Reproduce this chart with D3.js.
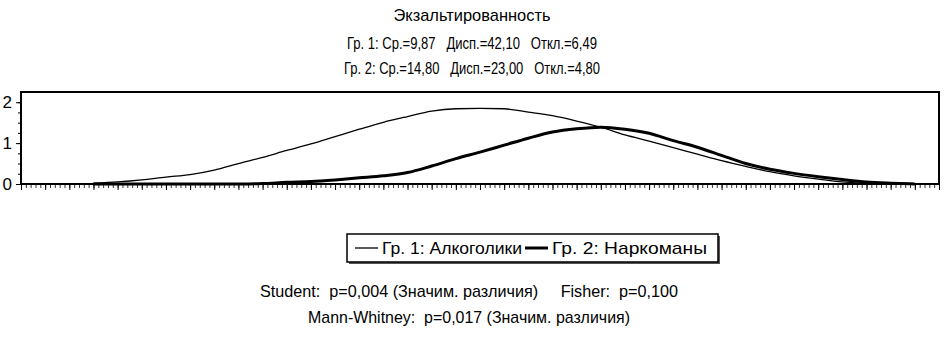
<!DOCTYPE html>
<html>
<head>
<meta charset="utf-8">
<script src="https://cdn.jsdelivr.net/npm/d3@7"></script>
<style>
	body { margin: 0; background: #fff; }
	svg { display: block; font-family: "Liberation Sans", Arial, sans-serif; }
	text { white-space: pre; }
</style>
</head>
<body>
<div id="chart"></div>
<script>

const xs = [-6,-5,-4,-3,-2,-1,0,1,2,3,4,5,6,7,8,9,10,11,12,13,14,15,16,17,18,19,20,21,22,23,24,25,26,27,28];

// Гр. 1: Алкоголики
const group1 = [0.02,0.05,0.10,0.17,0.23,0.34,0.50,0.65,0.82,0.98,1.16,1.34,1.51,1.65,1.78,1.84,1.85,1.84,1.76,1.67,1.54,1.39,1.20,1.05,0.89,0.73,0.57,0.43,0.30,0.20,0.12,0.05,0.01,0,0];

// Гр. 2: Наркоманы
const group2 = [0,0,0,0,0,0,0,0.01,0.04,0.06,0.10,0.15,0.20,0.28,0.44,0.62,0.78,0.95,1.12,1.27,1.35,1.39,1.34,1.24,1.06,0.90,0.70,0.50,0.36,0.26,0.18,0.11,0.05,0.02,0];

const seriesNames = ["Гр. 1: Алкоголики", "Гр. 2: Наркоманы"];
const yTicks = [0, 1, 2];

const titleLines = [
	"Экзальтированность",
	"Гр. 1: Ср.=9,87   Дисп.=42,10   Откл.=6,49",
	"Гр. 2: Ср.=14,80   Дисп.=23,00   Откл.=4,80"
];
const statLines = [
	"Student:  p=0,004 (Значим. различия)     Fisher:  p=0,100",
	"Mann-Whitney:  p=0,017 (Значим. различия)"
];

function drawChart(rootDOM){

	const W = 944;
	const H = 337;
	const m = {t:92,r:5,b:153,l:21};

	const svg = d3.select(rootDOM).append("svg")
		.attr("width", W)
		.attr("height", H);

	svg.append("rect").attr("width", W).attr("height", H).attr("fill", "#fff");

	const x = d3.scaleLinear()
		.domain([-9, 29])
		.range([m.l, W - m.r]);

	const y = d3.scaleLinear()
		.domain([0, 2.25])
		.range([H - m.b, m.t]);

	// headers
	const titleY = [15, 43, 68];
	const titleW = [157, 250, 256];
	svg.selectAll(".title")
		.data(titleLines)
		.enter().append("text")
		.attr("class", "title")
		.attr("x", 472)
		.attr("y", (d,i) => titleY[i])
		.attr("text-anchor", "middle")
		.attr("dominant-baseline", "central")
		.attr("textLength", (d,i) => titleW[i])
		.attr("lengthAdjust", "spacingAndGlyphs")
		.style("font-size", "17px")
		.text(d => d);

	// minor ticks x
	const xAxis = d3.axisBottom(x)
		.tickValues(d3.range(-9, 29.01, 0.2))
		.tickSize(4)
		.tickFormat("");

	svg.append("g")
		.attr("transform", `translate(0,${y(0)})`)
		.call(xAxis)
		.call(g => g.select(".domain").remove())
		.selectAll("line").attr("stroke", "#333");

	svg.append("g")
		.attr("transform", `translate(0,${y(0)})`)
		.call(d3.axisBottom(x).tickValues(d3.range(-9, 29.01, 1)).tickSize(6).tickFormat(""))
		.call(g => g.select(".domain").remove());

	// y axis
	svg.append("g")
		.attr("transform", `translate(${m.l},0)`)
		.call(d3.axisLeft(y).tickValues(d3.range(0, 2.01, 0.25)).tickSize(3).tickFormat(""))
		.call(g => g.select(".domain").remove());

	svg.append("g")
		.attr("transform", `translate(${m.l},0)`)
		.call(d3.axisLeft(y).tickValues(yTicks).tickSize(5).tickFormat(d3.format("d")))
		.call(g => g.select(".domain").remove())
		.selectAll("text")
		.attr("x", -9)
		.style("font-size", "17px")
		.style("font-family", "Liberation Sans, Arial, sans-serif")
		.attr("fill", "#000");

	const line = d3.line()
		.x((d,i) => x(xs[i]))
		.y(d => y(d))
		.curve(d3.curveMonotoneX);

	svg.append("path")
		.datum(group1)
		.attr("d", line)
		.attr("fill", "none")
		.attr("stroke", "#000")
		.attr("stroke-width", 1.3);

	svg.append("path")
		.datum(group2)
		.attr("d", line)
		.attr("fill", "none")
		.attr("stroke", "#000")
		.attr("stroke-width", 3);

	// frame
	svg.append("rect")
		.attr("x", m.l)
		.attr("y", m.t)
		.attr("width", W - m.r - m.l)
		.attr("height", y(0) - m.t)
		.attr("fill", "none")
		.attr("stroke", "#000")
		.attr("stroke-width", 2);

	// legend
	const lg = svg.append("g").attr("transform", "translate(347,234)");
	lg.append("rect").attr("x", 2).attr("y", 2).attr("width", 371).attr("height", 28).attr("fill", "#555");
	lg.append("rect").attr("width", 371).attr("height", 28).attr("fill", "#fff").attr("stroke", "#000").attr("stroke-width", 1.5);

	const lgX = [8, 178];
	const lgW = [140, 155];
	const lgSW = [1.3, 3];
	seriesNames.forEach((name, i) => {
		lg.append("line")
			.attr("x1", lgX[i]).attr("x2", lgX[i] + 23)
			.attr("y1", 14).attr("y2", 14)
			.attr("stroke", "#000").attr("stroke-width", lgSW[i]);
		lg.append("text")
			.attr("x", lgX[i] + 27)
			.attr("y", 14)
			.attr("dominant-baseline", "central")
			.attr("textLength", lgW[i])
			.attr("lengthAdjust", "spacingAndGlyphs")
			.style("font-size", "17px")
			.text(name);
	});

	// stats
	const statY = [291, 317];
	const statX = [260, 308];
	const statW = [418, 322];
	svg.selectAll(".stat")
		.data(statLines)
		.enter().append("text")
		.attr("class", "stat")
		.attr("x", (d,i) => statX[i])
		.attr("y", (d,i) => statY[i])
		.attr("dominant-baseline", "central")
		.attr("textLength", (d,i) => statW[i])
		.attr("lengthAdjust", "spacingAndGlyphs")
		.style("font-size", "17px")
		.text(d => d);
}

drawChart(document.getElementById("chart"));
</script>
</body>
</html>
